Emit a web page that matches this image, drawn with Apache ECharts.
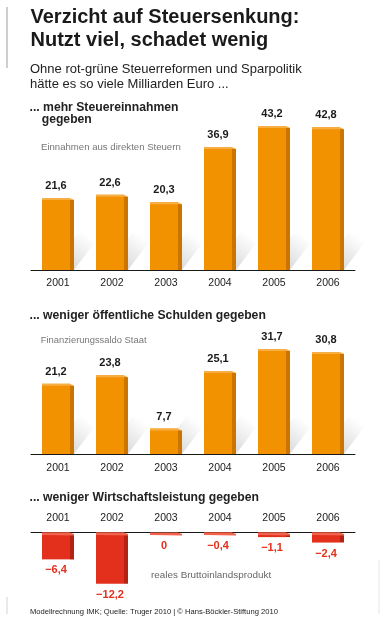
<!DOCTYPE html>
<html>
<head>
<meta charset="utf-8">
<script src="https://cdn.jsdelivr.net/npm/echarts@6/dist/echarts.min.js"></script>
<style>
html,body{margin:0;padding:0;background:#fff;}
#chart{width:382px;height:642px;}
</style>
</head>
<body>
<div id="chart"></div>
<script>
// ---- data ----
const years = ['2001', '2002', '2003', '2004', '2005', '2006'];
const steuern = [21.6, 22.6, 20.3, 36.9, 43.2, 42.8];   // Einnahmen aus direkten Steuern
const schulden = [21.2, 23.8, 7.7, 25.1, 31.7, 30.8];   // Finanzierungssaldo Staat
const bip = [-6.4, -12.2, 0, -0.4, -1.1, -2.4];         // reales Bruttoinlandsprodukt

const FONT = "'Liberation Sans', Arial, Helvetica, sans-serif";

function fmt(v) {
  const s = String(Math.abs(v)).replace('.', ',');
  return v < 0 ? '\u2212' + s : s;
}

function orangeRender(params, api) {
  const idx = api.value(0), v = api.value(1);
  const p = api.coord([idx, v]);
  const b = api.coord([idx, 0]);
  const cx = b[0];
  const x0 = cx - 16, x1 = cx + 12, d = 4;
  const top = p[1], base = b[1];
  const dx = 30, dy = 40;
  return {
    type: 'group',
    children: [
      { type: 'polygon', silent: true,
        shape: { points: [[x0 + 8, base], [x1 + d, base], [x1 + d + dx, base - dy], [x0 + 8 + dx, base - dy]] },
        style: { fill: { type: 'linear', x: 0, y: 1, x2: 0.55, y2: 0,
          colorStops: [{ offset: 0, color: 'rgba(0,0,0,0.20)' }, { offset: 1, color: 'rgba(0,0,0,0)' }] } } },
      { type: 'rect', shape: { x: x0, y: top, width: x1 - x0, height: base - top }, style: { fill: '#F39200' } },
      { type: 'polygon', shape: { points: [[x1, top + 1], [x1 + d, top + 2], [x1 + d, base], [x1, base]] }, style: { fill: '#C97500' } },
      { type: 'polygon', shape: { points: [[x0, top], [x1, top], [x1 + d, top + 2], [x1, top + 2], [x0, top + 2]] }, style: { fill: '#F7AE45' } },
      { type: 'text', style: { text: fmt(v), x: cx - 2, y: top - 12, align: 'center', verticalAlign: 'middle',
          font: 'bold 11px ' + FONT, fill: '#1a1a1a' } }
    ]
  };
}

function redRender(params, api) {
  const idx = api.value(0), v = api.value(1);
  const p = api.coord([idx, v]);
  const b = api.coord([idx, 0]);
  const cx = b[0];
  const x0 = cx - 16, x1 = cx + 12, d = 4;
  const top = b[1] + 0.5, bottom = p[1] + 0.5;
  return {
    type: 'group',
    children: [
      { type: 'rect', shape: { x: x0, y: top, width: x1 - x0, height: Math.max(0, bottom - top) }, style: { fill: '#E2301C' } },
      { type: 'polygon', shape: { points: [[x1, top + 1], [x1 + d, top + 2], [x1 + d, Math.max(bottom, top + 2.5)], [x1, Math.max(bottom, top + 2.5)]] }, style: { fill: '#B32212' } },
      { type: 'polygon', shape: { points: [[x0, top], [x1, top], [x1 + d, top + 1.5], [x1 + d, top + 3], [x0, top + 2.5]] }, style: { fill: '#F1634C' } },
      { type: 'text', style: { text: fmt(v), x: cx - 2, y: Math.max(bottom, top + 2.5) + 11, align: 'center', verticalAlign: 'middle',
          font: 'bold 11px ' + FONT, fill: '#E2301C' } }
    ]
  };
}

const chart = echarts.init(document.getElementById('chart'), null, { renderer: 'canvas' });

function xAx(gi, pos, margin) {
  return {
    type: 'category', gridIndex: gi, data: years, position: pos, boundaryGap: true,
    axisLine: { onZero: false, lineStyle: { color: '#1a1a1a', width: 1 } },
    axisTick: { show: false },
    axisLabel: { color: '#222', fontSize: 10.5, fontFamily: FONT, margin: margin },
    splitLine: { show: false }
  };
}
function yAx(gi, min, max) {
  return { type: 'value', gridIndex: gi, min: min, max: max, show: false, splitLine: { show: false } };
}

function txt(text, x, y, size, weight, color) {
  return { type: 'text', silent: true,
    style: { text: text, x: x, y: y, verticalAlign: 'middle', align: 'left',
      font: weight + ' ' + size + 'px ' + FONT, fill: color } };
}

const option = {
  animation: false,
  backgroundColor: '#ffffff',
  grid: [
    { left: 31, width: 324, top: 270 - 166.7, height: 166.7 },
    { left: 31, width: 324, top: 454 - 132.4, height: 132.4 },
    { left: 31, width: 324, top: 532, height: 58.8 }
  ],
  xAxis: [xAx(0, 'bottom', 8), xAx(1, 'bottom', 9), xAx(2, 'top', 8)],
  yAxis: [yAx(0, 0, 50), yAx(1, 0, 40), yAx(2, -14, 0)],
  series: [
    { type: 'custom', xAxisIndex: 0, yAxisIndex: 0, renderItem: orangeRender, data: steuern.map((v, i) => [i, v]) },
    { type: 'custom', xAxisIndex: 1, yAxisIndex: 1, renderItem: orangeRender, data: schulden.map((v, i) => [i, v]) },
    { type: 'custom', xAxisIndex: 2, yAxisIndex: 2, renderItem: redRender, data: bip.map((v, i) => [i, v]) }
  ],
  graphic: [
    { type: 'line', silent: true, shape: { x1: 7, y1: 7, x2: 7, y2: 68 }, style: { stroke: '#cfcfcf', lineWidth: 2 } },
    { type: 'line', silent: true, shape: { x1: 7, y1: 597, x2: 7, y2: 614 }, style: { stroke: '#e2e2e2', lineWidth: 1.5 } },
    { type: 'line', silent: true, shape: { x1: 379, y1: 560, x2: 379, y2: 614 }, style: { stroke: '#e6e6e6', lineWidth: 1 } },
    txt('Verzicht auf Steuersenkung:', 30.5, 17, 20, 'bold', '#1a1a1a'),
    txt('Nutzt viel, schadet wenig', 30.5, 40, 20, 'bold', '#1a1a1a'),
    txt('Ohne rot-grüne Steuerreformen und Sparpolitik', 30, 69.5, 13, 'normal', '#222'),
    txt('hätte es so viele Milliarden Euro ...', 30, 84, 13, 'normal', '#222'),
    txt('... mehr Steuereinnahmen', 29.5, 107.5, 12.2, 'bold', '#222'),
    txt('gegeben', 41.7, 120, 12.2, 'bold', '#222'),
    txt('Einnahmen aus direkten Steuern', 41, 147, 9.6, 'normal', '#777'),
    txt('... weniger öffentliche Schulden gegeben', 29.5, 316, 12.2, 'bold', '#222'),
    txt('Finanzierungssaldo Staat', 40.7, 340, 9.4, 'normal', '#777'),
    txt('... weniger Wirtschaftsleistung gegeben', 29.5, 497.5, 12.2, 'bold', '#222'),
    txt('reales Bruttoinlandsprodukt', 151, 575.5, 9.9, 'normal', '#666'),
    txt('Modellrechnung IMK; Quelle: Truger 2010 | © Hans-Böckler-Stiftung 2010', 30, 611.5, 7.6, 'normal', '#222')
  ]
};
chart.setOption(option);
</script>
</body>
</html>
